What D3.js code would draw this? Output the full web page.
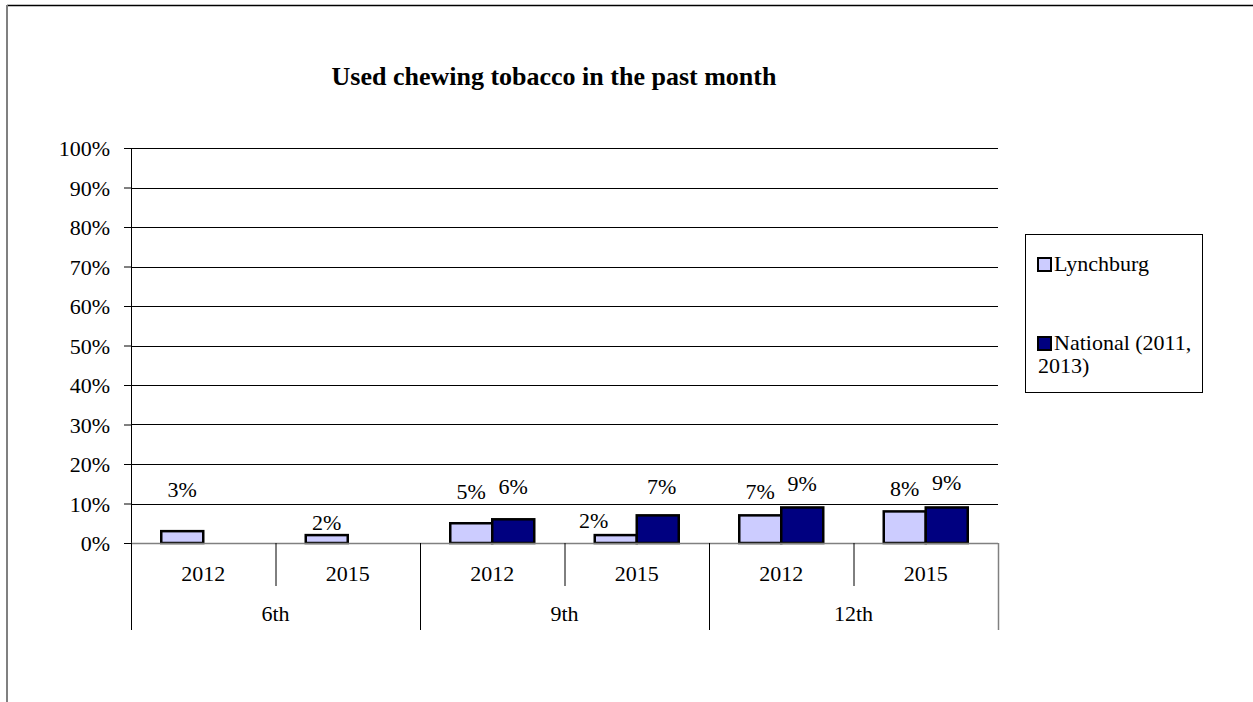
<!DOCTYPE html>
<html><head><meta charset="utf-8">
<script src="https://cdn.jsdelivr.net/npm/d3@7"></script>
<style>body{margin:0;background:#fff}svg{display:block;font-family:"Liberation Serif","Times New Roman",serif}</style>
</head><body>
<script>
const groups = ["6th","9th","12th"];
const years = ["2012","2015"];
const seriesNames = ["Lynchburg","National (2011, 2013)"];
const lynchburg = [3,2,5,2,7,8];
const national = [null,null,6,7,9,9];
const yTicks = [0,10,20,30,40,50,60,70,80,90,100];
const colors = ["#ccccff","#000080"];
// manual label nudges (px) as placed in the original
const lynLabelDy = [-34,-5,-24,-7,-16,-15];
const lynLabelDx = [0,0,0,-22,0,0];
const natLabelDy = [0,0,-25,-21,-16,-17];
const natLabelDx = [0,0,0,4,0,0];

const W=1253,H=702,FS="22px";
const svg=d3.select("body").append("svg").attr("width",W).attr("height",H);
svg.append("rect").attr("width",W).attr("height",H).attr("fill","#fff");
svg.append("line").attr("x1",7).attr("x2",W).attr("y1",5.5).attr("y2",5.5).attr("stroke","#000").attr("stroke-width",1.5);
svg.append("line").attr("x1",7).attr("x2",7).attr("y1",5).attr("y2",H).attr("stroke","#808080").attr("stroke-width",2);

const L=131,R=998,T=148,B=543;
const cats=[];groups.forEach(g=>years.forEach(y=>cats.push(g+"|"+y)));
const x=d3.scaleBand().domain(cats).range([L,R]);
const y=d3.scaleLinear().domain([0,100]).range([B,T]);
const bw=42, off=(x.bandwidth()-2*bw)/2;

svg.append("text").attr("x",554).attr("y",85).attr("text-anchor","middle").attr("font-weight","bold").style("font-size","26px").text("Used chewing tobacco in the past month");

const yAxis=d3.axisLeft(y).tickValues(yTicks).tickSize(7).tickFormat(d=>d+"%");
const ga=svg.append("g").attr("transform",`translate(${L},0)`).call(yAxis);
ga.attr("font-family",null).attr("font-size",null);
ga.select(".domain").attr("stroke","#000");
ga.selectAll(".tick line").attr("stroke","#000");
ga.selectAll(".tick text").style("font-size",FS).attr("fill","#000").attr("x",-21).attr("dy","0.35em");
svg.append("g").selectAll("line").data(yTicks.filter(d=>d>0)).join("line")
 .attr("x1",L).attr("x2",R).attr("y1",d=>Math.round(y(d))+0.5).attr("y2",d=>Math.round(y(d))+0.5).attr("stroke","#000");

const bars=svg.append("g");
const series=[{v:lynchburg,dy:lynLabelDy,dx:lynLabelDx},{v:national,dy:natLabelDy,dx:natLabelDx}];
cats.forEach((c,i)=>{
 series.forEach((s,j)=>{
  const v=s.v[i]; if(v==null)return;
  const bx=x(c)+off+j*bw;
  bars.append("rect").attr("x",bx).attr("y",y(v)).attr("width",bw).attr("height",B-y(v))
   .attr("fill",colors[j]).attr("stroke","#000").attr("stroke-width",2.5);
  bars.append("text").attr("x",bx+bw/2+s.dx[i]).attr("y",y(v)+s.dy[i]).attr("text-anchor","middle").style("font-size",FS).text(v+"%");
 });
});
svg.append("line").attr("x1",L).attr("x2",R).attr("y1",B+0.5).attr("y2",B+0.5).attr("stroke","#808080").attr("stroke-width",1.5);
cats.forEach((c,i)=>{
 const xx=x(c);
 const long=i%2===0;
 svg.append("line").attr("x1",xx+0.5).attr("x2",xx+0.5).attr("y1",B).attr("y2",long?630:586).attr("stroke","#000");
 svg.append("text").attr("x",xx+x.bandwidth()/2).attr("y",581).attr("text-anchor","middle").style("font-size",FS).text(c.split("|")[1]);
});
svg.append("line").attr("x1",R+0.5).attr("x2",R+0.5).attr("y1",B).attr("y2",630).attr("stroke","#808080").attr("stroke-width",1.5);
groups.forEach(g=>{
 const x0=x(g+"|2012"),x1=x(g+"|2015")+x.bandwidth();
 svg.append("text").attr("x",(x0+x1)/2).attr("y",621).attr("text-anchor","middle").style("font-size",FS).text(g);
});

const lg=svg.append("g");
lg.append("rect").attr("x",1025.5).attr("y",234.5).attr("width",177).attr("height",158).attr("fill","#fff").attr("stroke","#000");
const items=[{t:["Lynchburg"],y:271,c:colors[0]},{t:["National (2011,","2013)"],y:350,c:colors[1]}];
items.forEach(it=>{
 lg.append("rect").attr("x",1038).attr("y",it.y-13).attr("width",13).attr("height",13).attr("fill",it.c).attr("stroke","#000").attr("stroke-width",2);
 it.t.forEach((s,k)=>lg.append("text").attr("x",k===0?1054:1038).attr("y",it.y+k*23).style("font-size",FS).text(s));
});
</script>
</body></html>
